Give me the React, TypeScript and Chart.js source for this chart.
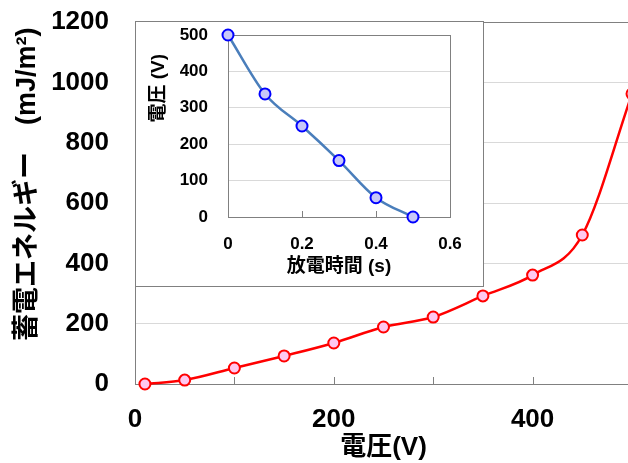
import React, { useEffect, useRef } from 'react';
import { Chart, registerables } from 'chart.js';
Chart.register(...registerables);

// Main chart data
const voltage = [10, 50, 100, 150, 200, 250, 300, 350, 400, 450, 500];
const energy = [0, 13, 53, 93, 136, 189, 222, 292, 361, 494, 962];
const mainXTickMarks = [100, 200, 300, 400];
const mainXLabelValues = [0, 200, 400];

// Inset data
const dischargeTime = [0, 0.1, 0.2, 0.3, 0.4, 0.5];
const dischargeVoltage = [500, 338, 250, 155, 53, 0];
const insetXTickMarks = [0.2, 0.4];

const FONT = '"Liberation Sans", Arial, "Noto Sans CJK JP", sans-serif';
const AXIS_GRAY = '#808080';
const GRID_GRAY = '#d9d9d9';
const CLEAR = 'rgba(0,0,0,0)';

const innerTicks = {
  id: 'innerTicks',
  beforeDatasetsDraw(chart: any, _args: any, opts: any) {
    const { ctx, chartArea } = chart;
    const xs = chart.scales.x;
    ctx.save();
    ctx.strokeStyle = opts.color || AXIS_GRAY;
    ctx.lineWidth = 1;
    for (const v of opts.values || []) {
      const px = Math.round(xs.getPixelForValue(v)) + 0.5;
      ctx.beginPath();
      ctx.moveTo(px, chartArea.bottom);
      ctx.lineTo(px, chartArea.bottom - (opts.length || 7));
      ctx.stroke();
    }
    ctx.restore();
  },
};

function MainChart() {
  const ref = useRef<HTMLCanvasElement>(null);
  useEffect(() => {
    const chart = new Chart(ref.current!, {
      type: 'line',
      data: {
        datasets: [
          {
            data: voltage.map((v, i) => ({ x: v, y: energy[i] })),
            borderColor: '#ff0000',
            borderWidth: 2.5,
            backgroundColor: '#ffc8f0',
            pointBackgroundColor: '#ffc8f0',
            pointBorderColor: '#ff0000',
            pointBorderWidth: 2,
            pointRadius: 5.5,
            cubicInterpolationMode: 'monotone',
            clip: false,
          } as any,
        ],
      },
      options: {
        responsive: false,
        animation: false,
        layout: { padding: { top: 22, right: 28, left: 0, bottom: 0 } },
        plugins: {
          legend: { display: false },
          tooltip: { enabled: false },
          innerTicks: { values: mainXTickMarks, length: 7, color: AXIS_GRAY },
        } as any,
        scales: {
          x: {
            type: 'linear',
            min: 0,
            max: 500,
            afterFit: (s: any) => { s.height = 79; },
            ticks: {
              stepSize: 100,
              autoSkip: false,
              maxRotation: 0,
              padding: 20,
              color: '#000',
              font: { family: FONT, size: 26, weight: 'bold' },
              callback: (v: any) => (mainXLabelValues.includes(Number(v)) ? String(v) : ''),
            },
            grid: { display: false, drawTicks: false },
            border: { display: true, color: AXIS_GRAY, width: 1 },
            title: {
              display: true,
              text: '電圧(V)',
              color: '#000',
              font: { family: FONT, size: 26, weight: 'bold' },
              padding: { top: 0, bottom: 0 },
            },
          },
          y: {
            type: 'linear',
            min: 0,
            max: 1200,
            afterFit: (s: any) => { s.width = 135; },
            ticks: {
              stepSize: 200,
              padding: 0,
              color: '#000',
              font: { family: FONT, size: 26, weight: 'bold' },
              callback: (v: any) => String(v),
            },
            grid: {
              drawTicks: true,
              tickLength: 26,
              tickColor: CLEAR,
              color: (c: any) =>
                c.tick && c.tick.value === 1200 ? AXIS_GRAY : c.tick && c.tick.value === 0 ? CLEAR : GRID_GRAY,
            },
            border: { display: true, color: AXIS_GRAY, width: 1 },
            title: {
              display: true,
              text: '蓄電エネルギー\u3000(mJ/m²)\u2009',
              align: 'end',
              color: '#000',
              font: { family: FONT, size: 27, weight: 'bold' },
              padding: { top: 11, bottom: 0 },
            },
          },
        },
      } as any,
      plugins: [innerTicks],
    });
    return () => chart.destroy();
  }, []);
  return <canvas ref={ref} width={660} height={463} style={{ width: 660, height: 463, display: 'block' }} />;
}

function InsetChart() {
  const ref = useRef<HTMLCanvasElement>(null);
  useEffect(() => {
    const chart = new Chart(ref.current!, {
      type: 'line',
      data: {
        datasets: [
          {
            data: dischargeTime.map((t, i) => ({ x: t, y: dischargeVoltage[i] })),
            borderColor: '#4a7ebb',
            borderWidth: 2.5,
            backgroundColor: '#c8c8f8',
            pointBackgroundColor: '#c8c8f8',
            pointBorderColor: '#0000ff',
            pointBorderWidth: 2,
            pointRadius: 5.5,
            cubicInterpolationMode: 'monotone',
            clip: false,
          } as any,
        ],
      },
      options: {
        responsive: false,
        animation: false,
        layout: { padding: { top: 13, right: 33, left: 0, bottom: 0 } },
        plugins: {
          legend: { display: false },
          tooltip: { enabled: false },
          innerTicks: { values: insetXTickMarks, length: 6, color: AXIS_GRAY },
        } as any,
        scales: {
          x: {
            type: 'linear',
            min: 0,
            max: 0.6,
            afterFit: (s: any) => { s.height = 69; },
            ticks: {
              stepSize: 0.2,
              autoSkip: false,
              maxRotation: 0,
              padding: 17,
              color: '#000',
              font: { family: FONT, size: 17, weight: 'bold' },
              callback: (v: any) => (Number(v) === 0 ? '0' : Number(v).toFixed(1)),
            },
            grid: {
              drawTicks: false,
              color: (c: any) => (c.tick && Math.abs(c.tick.value - 0.6) < 1e-6 ? AXIS_GRAY : CLEAR),
            },
            border: { display: true, color: AXIS_GRAY, width: 1 },
            title: {
              display: true,
              text: '放電時間 (s)',
              color: '#000',
              font: { family: FONT, size: 19, weight: 'bold' },
              padding: { top: 0, bottom: 8 },
            },
          },
          y: {
            type: 'linear',
            min: 0,
            max: 500,
            afterFit: (s: any) => { s.width = 92; },
            ticks: {
              stepSize: 100,
              padding: 0,
              color: '#000',
              font: { family: FONT, size: 17, weight: 'bold' },
            },
            grid: {
              drawTicks: true,
              tickLength: 20,
              tickColor: CLEAR,
              color: (c: any) =>
                c.tick && c.tick.value === 500 ? AXIS_GRAY : c.tick && c.tick.value === 0 ? CLEAR : GRID_GRAY,
            },
            border: { display: true, color: AXIS_GRAY, width: 1 },
            title: {
              display: true,
              text: '電圧 (V)\u2003',
              align: 'end',
              color: '#000',
              font: { family: FONT, size: 19, weight: 'bold' },
              padding: { top: 11, bottom: 0 },
            },
          },
        },
      } as any,
      plugins: [innerTicks],
    });
    return () => chart.destroy();
  }, []);
  return <canvas ref={ref} width={347} height={264} style={{ width: 347, height: 264, display: 'block' }} />;
}

export default function App() {
  return (
    <div
      style={{
        position: 'fixed',
        left: 0,
        top: 0,
        width: 628,
        height: 463,
        overflow: 'hidden',
        background: '#fff',
      }}
    >
      <div style={{ position: 'absolute', left: 0, top: 0 }}>
        <MainChart />
      </div>
      <div
        style={{
          position: 'absolute',
          left: 135,
          top: 21,
          width: 349,
          height: 266,
          boxSizing: 'border-box',
          border: `1px solid ${AXIS_GRAY}`,
          background: '#fff',
        }}
      >
        <InsetChart />
      </div>
    </div>
  );
}
